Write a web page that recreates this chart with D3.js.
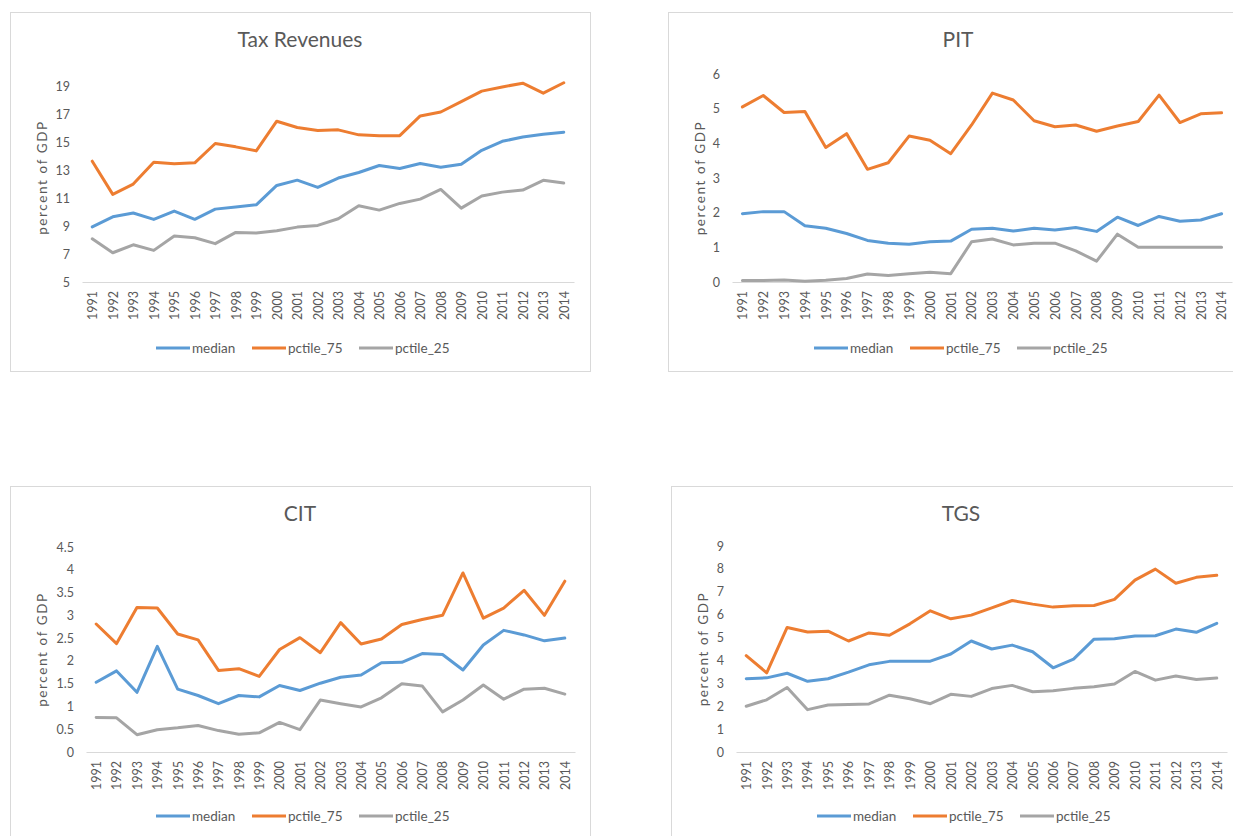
<!DOCTYPE html>
<html>
<head>
<meta charset="utf-8">
<script src="https://cdn.jsdelivr.net/npm/d3@7"></script>
<style>
  body { margin: 0; background: #fff; }
  svg text { font-family: Lato, 'Open Sans', sans-serif; fill: #595959; }
</style>
</head>
<body>
<div id="chart"></div>
<script>
const years = d3.range(1991, 2015).map(String);
const seriesNames = ['median', 'pctile_75', 'pctile_25'];
const seriesColors = ['#5b9bd5', '#ed7d31', '#a5a5a5'];

// Tax Revenues
const taxMedian = [8.96, 9.68, 9.95, 9.49, 10.09, 9.5, 10.23, 10.38, 10.54, 11.93, 12.31, 11.79, 12.46, 12.86, 13.36, 13.15, 13.5, 13.24, 13.45, 14.45, 15.1, 15.4, 15.6, 15.75];
const taxP75 = [13.67, 11.29, 12.03, 13.6, 13.48, 13.55, 14.94, 14.7, 14.41, 16.54, 16.09, 15.87, 15.92, 15.56, 15.5, 15.5, 16.92, 17.2, 17.95, 18.7, 19.0, 19.27, 18.55, 19.3];
const taxP25 = [8.1, 7.1, 7.67, 7.27, 8.3, 8.18, 7.75, 8.56, 8.52, 8.68, 8.94, 9.06, 9.54, 10.47, 10.16, 10.64, 10.95, 11.64, 10.3, 11.17, 11.45, 11.6, 12.3, 12.1];
const taxTicks = [5, 7, 9, 11, 13, 15, 17, 19];

// PIT
const pitMedian = [1.97, 2.03, 2.03, 1.62, 1.55, 1.4, 1.2, 1.12, 1.09, 1.16, 1.18, 1.52, 1.55, 1.47, 1.55, 1.5, 1.57, 1.46, 1.87, 1.63, 1.89, 1.75, 1.79, 1.97];
const pitP75 = [5.05, 5.38, 4.89, 4.92, 3.88, 4.28, 3.25, 3.44, 4.21, 4.09, 3.7, 4.53, 5.45, 5.25, 4.65, 4.48, 4.53, 4.35, 4.5, 4.63, 5.39, 4.6, 4.85, 4.88];
const pitP25 = [0.04, 0.04, 0.06, 0.02, 0.05, 0.1, 0.23, 0.19, 0.24, 0.28, 0.24, 1.16, 1.24, 1.07, 1.12, 1.12, 0.9, 0.6, 1.38, 1.0, 1.0, 1.0, 1.0, 1.0];
const pitTicks = [0, 1, 2, 3, 4, 5, 6];

// CIT
const citMedian = [1.53, 1.78, 1.31, 2.32, 1.38, 1.24, 1.06, 1.24, 1.21, 1.46, 1.35, 1.51, 1.64, 1.69, 1.96, 1.97, 2.16, 2.14, 1.8, 2.35, 2.67, 2.57, 2.44, 2.5];
const citP75 = [2.81, 2.38, 3.17, 3.16, 2.59, 2.46, 1.79, 1.83, 1.66, 2.25, 2.51, 2.18, 2.84, 2.37, 2.48, 2.8, 2.91, 3.0, 3.93, 2.94, 3.16, 3.55, 3.0, 3.75];
const citP25 = [0.76, 0.75, 0.38, 0.49, 0.53, 0.58, 0.47, 0.39, 0.42, 0.65, 0.49, 1.14, 1.06, 0.99, 1.19, 1.5, 1.45, 0.88, 1.14, 1.47, 1.16, 1.38, 1.4, 1.27];
const citTicks = [0, 0.5, 1, 1.5, 2, 2.5, 3, 3.5, 4, 4.5];

// TGS
const tgsMedian = [3.2, 3.24, 3.44, 3.09, 3.2, 3.49, 3.81, 3.96, 3.97, 3.97, 4.28, 4.85, 4.5, 4.67, 4.38, 3.68, 4.06, 4.93, 4.95, 5.07, 5.08, 5.37, 5.23, 5.62];
const tgsP75 = [4.21, 3.46, 5.44, 5.24, 5.28, 4.85, 5.2, 5.1, 5.6, 6.17, 5.82, 5.98, 6.3, 6.62, 6.46, 6.33, 6.39, 6.4, 6.67, 7.51, 7.99, 7.37, 7.63, 7.72];
const tgsP25 = [2.0, 2.28, 2.82, 1.85, 2.05, 2.07, 2.1, 2.48, 2.33, 2.11, 2.52, 2.43, 2.77, 2.91, 2.63, 2.68, 2.78, 2.85, 2.97, 3.52, 3.14, 3.32, 3.17, 3.23];
const tgsTicks = [0, 1, 2, 3, 4, 5, 6, 7, 8, 9];

const svg = d3.select('#chart').append('svg')
  .attr('width', 1233)
  .attr('height', 836);

function panel({ x, y, title, series, ticks, yMax, margin, legendY }) {
  const boxW = 580;
  const boxH = 359;
  const g = svg.append('g').attr('transform', `translate(${x}, ${y})`);

  g.append('rect')
    .attr('x', 0.5).attr('y', 0.5)
    .attr('width', boxW).attr('height', boxH)
    .attr('fill', '#fff')
    .attr('stroke', '#d9d9d9');

  const width = boxW - margin.left - margin.right;
  const height = boxH - margin.top - margin.bottom;

  const plot = g.append('g')
    .attr('transform', `translate(${margin.left}, ${margin.top})`);

  const xScale = d3.scalePoint().domain(years).range([0, width]).padding(0.5);
  const yScale = d3.scaleLinear().domain([ticks[0], yMax]).range([height, 0]);

  // y axis, no line
  const yAx = plot.append('g')
    .call(d3.axisLeft(yScale).tickValues(ticks).tickSize(0).tickPadding(12).tickFormat(d => d));
  yAx.select('.domain').remove();
  yAx.selectAll('text').style('font-size', '12.5px').style('fill', '#595959');

  // x axis
  const xAx = plot.append('g')
    .attr('transform', `translate(0, ${height})`)
    .call(d3.axisBottom(xScale).tickSize(0));
  xAx.select('.domain').attr('stroke', '#d9d9d9').attr('stroke-width', 1);
  xAx.selectAll('text')
    .attr('transform', 'rotate(-90)')
    .attr('x', -9)
    .attr('y', 0)
    .attr('dy', '0.35em')
    .style('text-anchor', 'end')
    .style('font-size', '12.5px')
    .style('fill', '#595959');

  // axis title
  plot.append('text')
    .attr('transform', `translate(${-margin.left + 32}, ${height / 2}) rotate(-90)`)
    .attr('text-anchor', 'middle')
    .attr('dy', '0.35em')
    .style('font-size', '13.5px')
    .style('letter-spacing', '1.6px')
    .text('percent of GDP');

  // chart title
  g.append('text')
    .attr('x', boxW / 2)
    .attr('y', 28)
    .attr('dy', '0.35em')
    .attr('text-anchor', 'middle')
    .style('font-size', '21px')
    .text(title);

  const line = d3.line()
    .x((d, i) => xScale(years[i]))
    .y(d => yScale(d));

  series.forEach((s, i) => {
    plot.append('path')
      .datum(s)
      .attr('fill', 'none')
      .attr('stroke', seriesColors[i])
      .attr('stroke-width', 3)
      .attr('stroke-linejoin', 'round')
      .attr('stroke-linecap', 'round')
      .attr('d', line);
  });

  // legend
  const legend = g.append('g').attr('transform', `translate(0, ${legendY})`);
  const itemX = [146, 242, 349];
  seriesNames.forEach((name, i) => {
    const item = legend.append('g').attr('transform', `translate(${itemX[i]}, 0)`);
    item.append('line')
      .attr('x1', 0).attr('x2', 34)
      .attr('y1', 0).attr('y2', 0)
      .attr('stroke', seriesColors[i])
      .attr('stroke-width', 3);
    item.append('text')
      .attr('x', 36)
      .attr('dy', '0.35em')
      .style('font-size', '13.5px')
      .text(name);
  });
}

panel({
  x: 10, y: 12, title: 'Tax Revenues',
  series: [taxMedian, taxP75, taxP25], ticks: taxTicks, yMax: 20,
  margin: { top: 61, right: 16, bottom: 89, left: 72 }, legendY: 336
});
panel({
  x: 668, y: 12, title: 'PIT',
  series: [pitMedian, pitP75, pitP25], ticks: pitTicks, yMax: 6,
  margin: { top: 62, right: 16, bottom: 89, left: 64 }, legendY: 336
});
panel({
  x: 10, y: 486, title: 'CIT',
  series: [citMedian, citP75, citP25], ticks: citTicks, yMax: 4.5,
  margin: { top: 61, right: 15, bottom: 93, left: 76 }, legendY: 330
});
panel({
  x: 671, y: 486, title: 'TGS',
  series: [tgsMedian, tgsP75, tgsP25], ticks: tgsTicks, yMax: 9,
  margin: { top: 60, right: 24, bottom: 93, left: 65 }, legendY: 330
});
</script>
</body>
</html>
